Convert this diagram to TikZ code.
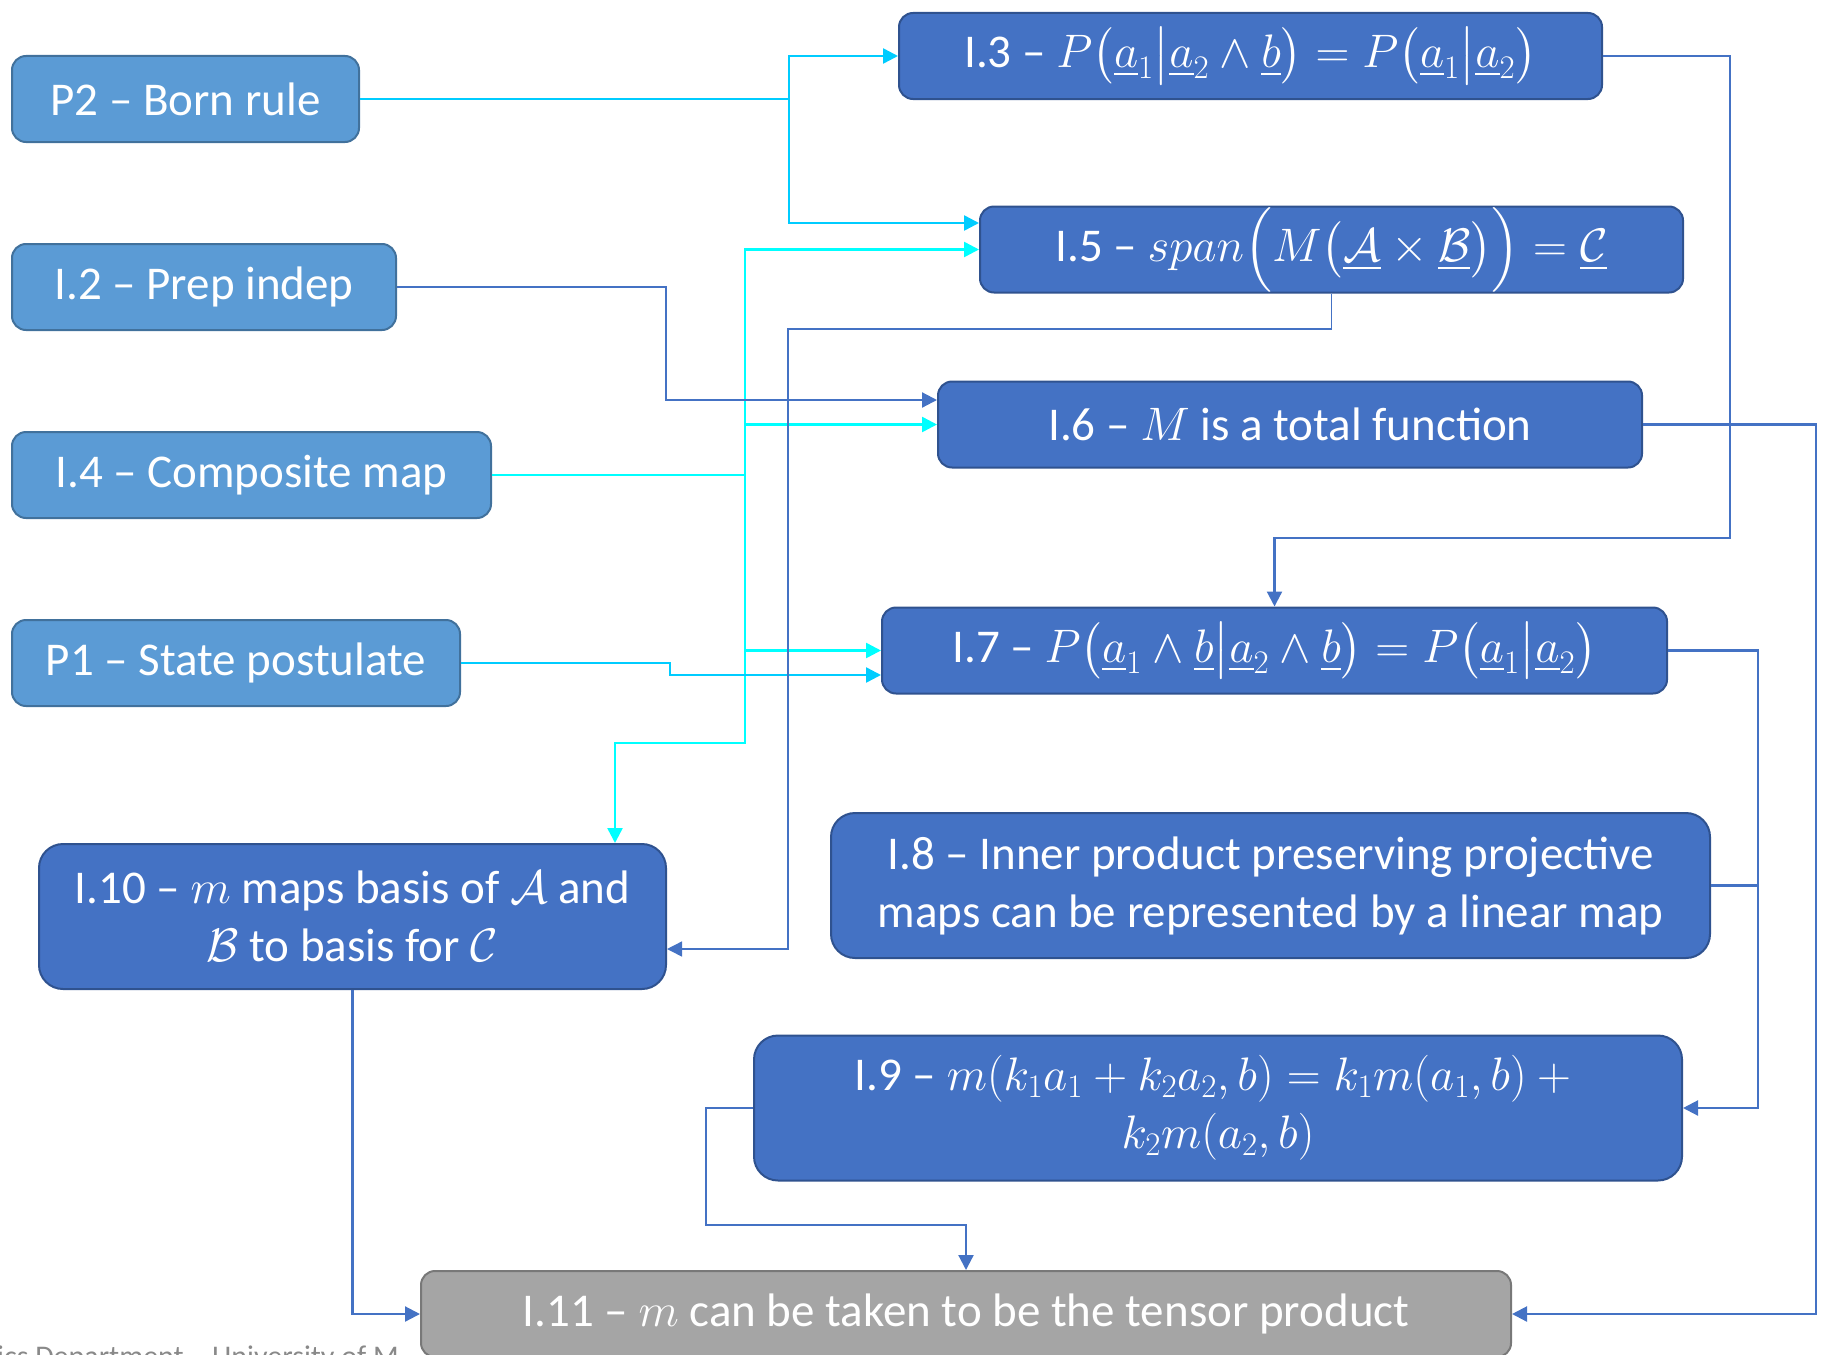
\RequirePackage{fix-cm}
\documentclass[tikz,border=0pt]{standalone}
\usepackage{fontspec}
\setmainfont{Carlito}
\usepackage{amsmath, amssymb}
\usetikzlibrary{arrows.meta}

\definecolor{lemmafill}{RGB}{68,114,196}
\definecolor{lemmaedge}{RGB}{47,82,143}
\definecolor{postfill}{RGB}{91,155,213}
\definecolor{postedge}{RGB}{65,113,156}
\definecolor{resultfill}{RGB}{165,165,165}
\definecolor{resultedge}{RGB}{120,120,120}
\definecolor{skycyan}{RGB}{0,204,255}
\definecolor{aquacyan}{RGB}{0,255,255}
\definecolor{footgray}{RGB}{137,137,137}

\begin{document}
\begin{tikzpicture} [x = 1pt, y = -1pt,
    box/.style = {draw, line width = 2pt, rounded corners = 14pt, text = white,
        align = center, inner sep = 0pt, minimum height = 86pt,
        font = \fontsize{47}{58}\selectfont},
    postbox/.style = {box, fill = postfill, draw = postedge},
    lemma/.style = {box, fill = lemmafill, draw = lemmaedge},
    result/.style = {box, fill = resultfill, draw = resultedge},
    tall/.style = {minimum height = 145pt, rounded corners = 24pt},
    tip/.style = {-{Triangle[length = 15pt, width = 15pt]}},
    skyarrow/.style = {tip, skycyan, line width = 2.5pt},
    aquaarrow/.style = {tip, aquacyan, line width = 2.5pt},
    blueline/.style = {lemmafill, line width = 2.2pt},
    bluearrow/.style = {tip, blueline},
    thinarrow/.style = {tip, lemmafill, line width = 1.5pt}]

    \useasboundingbox (0,0) rectangle (1830,1354);
    \clip (0,0) rectangle (1830,1354);

    \node [anchor = base west, text = footgray, inner sep = 0pt,
        font = \fontsize{30}{36}\selectfont] (foot) at (-3, 1366)
        {ics Department -- University of M};

    % postulates and inputs on the left
    \node [postbox, minimum width = 347] (p2) at (185.5, 99) {P2 -- Born rule};
    \node [postbox, minimum width = 384] (i2) at (204, 287) {I.2 -- Prep indep};
    \node [postbox, minimum width = 479] (i4) at (251.5, 475) {I.4 -- Composite map};
    \node [postbox, minimum width = 448] (p1) at (236, 663) {P1 -- State postulate};

    % intermediate results
    \node [lemma, minimum width = 703] (i3) at (1250.5, 56)
        {I.3 -- $P\bigl(\underline{a}_1\big|\underline{a}_2\wedge\underline{b}\bigr)
        = P\bigl(\underline{a}_1\big|\underline{a}_2\bigr)$};
    \node [lemma, minimum width = 703] (i5) at (1331.5, 249.5)
        {I.5 -- $span\Bigl(M\bigl(\underline{\mathcal{A}}\times
        \underline{\mathcal{B}}\bigr)\Bigr) = \underline{\mathcal{C}}$};
    \node [lemma, minimum width = 704] (i6) at (1290, 424.5) {I.6 -- $M$ is a total function};
    \node [lemma, minimum width = 785] (i7) at (1274.5, 650.5)
        {I.7 -- $P\bigl(\underline{a}_1\wedge\underline{b}\big|\underline{a}_2\wedge\underline{b}\bigr)
        = P\bigl(\underline{a}_1\big|\underline{a}_2\bigr)$};
    \node [lemma, tall, minimum width = 879] (i8) at (1270.5, 885.5)
        {I.8 -- Inner product preserving projective\\maps can be represented by a linear map};
    \node [lemma, tall, minimum width = 928] (i9) at (1218, 1108)
        {I.9 -- $m(k_1a_1+k_2a_2,b)=k_1m(a_1,b)+{}$\\$k_2m(a_2,b)$};
    \node [lemma, tall, minimum width = 627] (i10) at (352.5, 916.5)
        {I.10 -- $m$ maps basis of $\mathcal{A}$ and\\$\mathcal{B}$ to basis for $\mathcal{C}$};
    \node [result, minimum width = 1090] (i11) at (966, 1314)
        {I.11 -- $m$ can be taken to be the tensor product};

    % links from P2
    \draw [skyarrow] (p2.east) -| (789, 56) -- (i3.west);
    \draw [skyarrow] (789, 99) |- (i5.west |- 0,223);

    % links from I.4
    \draw [aquaarrow] (i4.east) -| (745, 249.5) -- (i5.west);
    \draw [aquaarrow] (745, 424.5) -- (i6.west);
    \draw [aquaarrow] (745, 475) |- (i7.west);
    \draw [aquaarrow] (745, 475) |- (615, 743) -- (i10.north -| 615,0);

    % other links
    \draw [skyarrow] (p1.east) -| (670, 675) -- (i7.west |- 0,675);
    \draw [bluearrow] (i2.east) -| (666, 400) -- (i6.west |- 0,400);
    \draw [thinarrow] (i5.south) |- (788, 329) |- (i10.east |- 0,949);
    \draw [bluearrow] (i3.east) -| (1730, 538) -| (i7.north);
    \draw [bluearrow] (i6.east) -| (1816, 1314) -- (i11.east);
    \draw [bluearrow] (i7.east) -| (1758, 1108) -- (i9.east);
    \draw [blueline] (i8.east) -- (i8.east -| 1758,0);
    \draw [bluearrow] (i9.west) -| (706, 1225) -| (i11.north);
    \draw [bluearrow] (i10.south) |- (i11.west);

\end{tikzpicture}
\end{document}
